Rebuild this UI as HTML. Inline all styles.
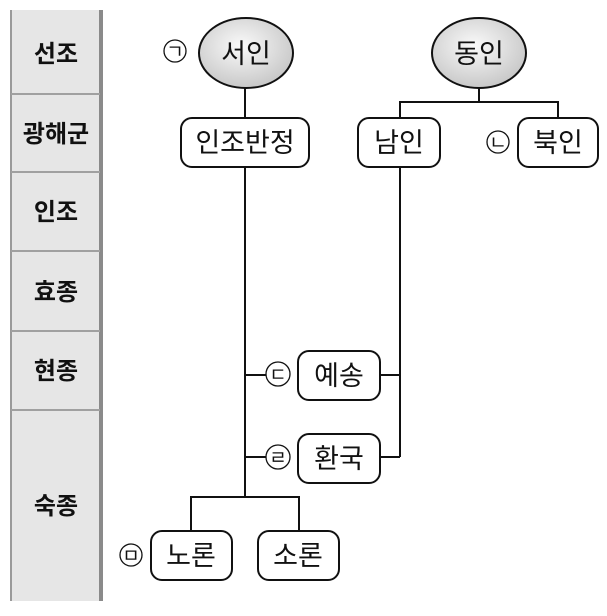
<!DOCTYPE html>
<html><head><meta charset="utf-8"><style>
body{margin:0;background:#fff;width:607px;height:611px;overflow:hidden}
svg text{font-family:"Liberation Sans","Noto Sans CJK KR",sans-serif}
</style></head><body>
<svg width="607" height="611" viewBox="0 0 607 611" xmlns="http://www.w3.org/2000/svg">
<defs><radialGradient id="g" cx="0.45" cy="0.4" r="0.65"><stop offset="0" stop-color="#fafafa"/><stop offset="1" stop-color="#c4c4c4"/></radialGradient></defs>
<rect x="10" y="10" width="91" height="591" fill="#e6e6e6"/>
<line x1="11" y1="10" x2="11" y2="601" stroke="#9a9a9a" stroke-width="2"/>
<line x1="101" y1="10" x2="101" y2="601" stroke="#8a8a8a" stroke-width="4"/>
<g stroke="#a0a0a0" stroke-width="2">
<line x1="11" y1="94" x2="100" y2="94"/><line x1="11" y1="172" x2="100" y2="172"/>
<line x1="11" y1="251" x2="100" y2="251"/><line x1="11" y1="331" x2="100" y2="331"/>
<line x1="11" y1="410" x2="100" y2="410"/></g>
<g font-size="24" font-weight="bold" text-anchor="middle" fill="#111">
<text x="56" y="62">선조</text><text x="56" y="142">광해군</text><text x="56" y="220">인조</text>
<text x="56" y="300">효종</text><text x="56" y="379">현종</text><text x="56" y="514">숙종</text></g>
<g stroke="#111" stroke-width="2" fill="none">
<line x1="245" y1="88" x2="245" y2="497"/>
<line x1="479" y1="88" x2="479" y2="102"/>
<polyline points="400,118 400,102 558,102 558,118"/>
<line x1="400" y1="168" x2="400" y2="457"/>
<line x1="245" y1="375" x2="266" y2="375"/><line x1="380" y1="375" x2="400" y2="375"/>
<line x1="245" y1="457" x2="266" y2="457"/><line x1="380" y1="457" x2="400" y2="457"/>
<polyline points="191,531 191,497 299,497 299,531"/>
</g>
<g stroke="#111" stroke-width="2">
<ellipse cx="246" cy="53" rx="47" ry="35" fill="url(#g)"/>
<ellipse cx="479" cy="53" rx="47" ry="35" fill="url(#g)"/>
</g>
<g stroke="#111" stroke-width="2" fill="#fff">
<rect x="181" y="118" width="128" height="49" rx="11"/>
<rect x="358" y="118" width="82" height="49" rx="11"/>
<rect x="518" y="118" width="80" height="49" rx="11"/>
<rect x="298" y="351" width="82" height="49" rx="11"/>
<rect x="298" y="434" width="82" height="49" rx="11"/>
<rect x="151" y="531" width="81" height="49" rx="11"/>
<rect x="258" y="531" width="81" height="49" rx="11"/>
</g>
<g stroke="#111" stroke-width="1.3" fill="#fff">
<circle cx="175" cy="51" r="11"/><circle cx="498" cy="142" r="11"/>
<circle cx="278" cy="374" r="12"/><circle cx="278" cy="457" r="12"/>
<circle cx="131" cy="555" r="11"/>
</g>
<g font-size="19" text-anchor="middle" fill="#111">
<text x="175" y="58">ㄱ</text><text x="498" y="149">ㄴ</text><text x="278" y="381">ㄷ</text>
<text x="278" y="464">ㄹ</text><text x="131" y="562">ㅁ</text></g>
<g font-size="27" text-anchor="middle" fill="#111">
<text x="246" y="63">서인</text><text x="479" y="63">동인</text>
<text x="245" y="152">인조반정</text><text x="399" y="152">남인</text><text x="558" y="152">북인</text>
<text x="339" y="385">예송</text><text x="339" y="468">환국</text>
<text x="191" y="565">노론</text><text x="298" y="565">소론</text></g>
</svg>
</body></html>
